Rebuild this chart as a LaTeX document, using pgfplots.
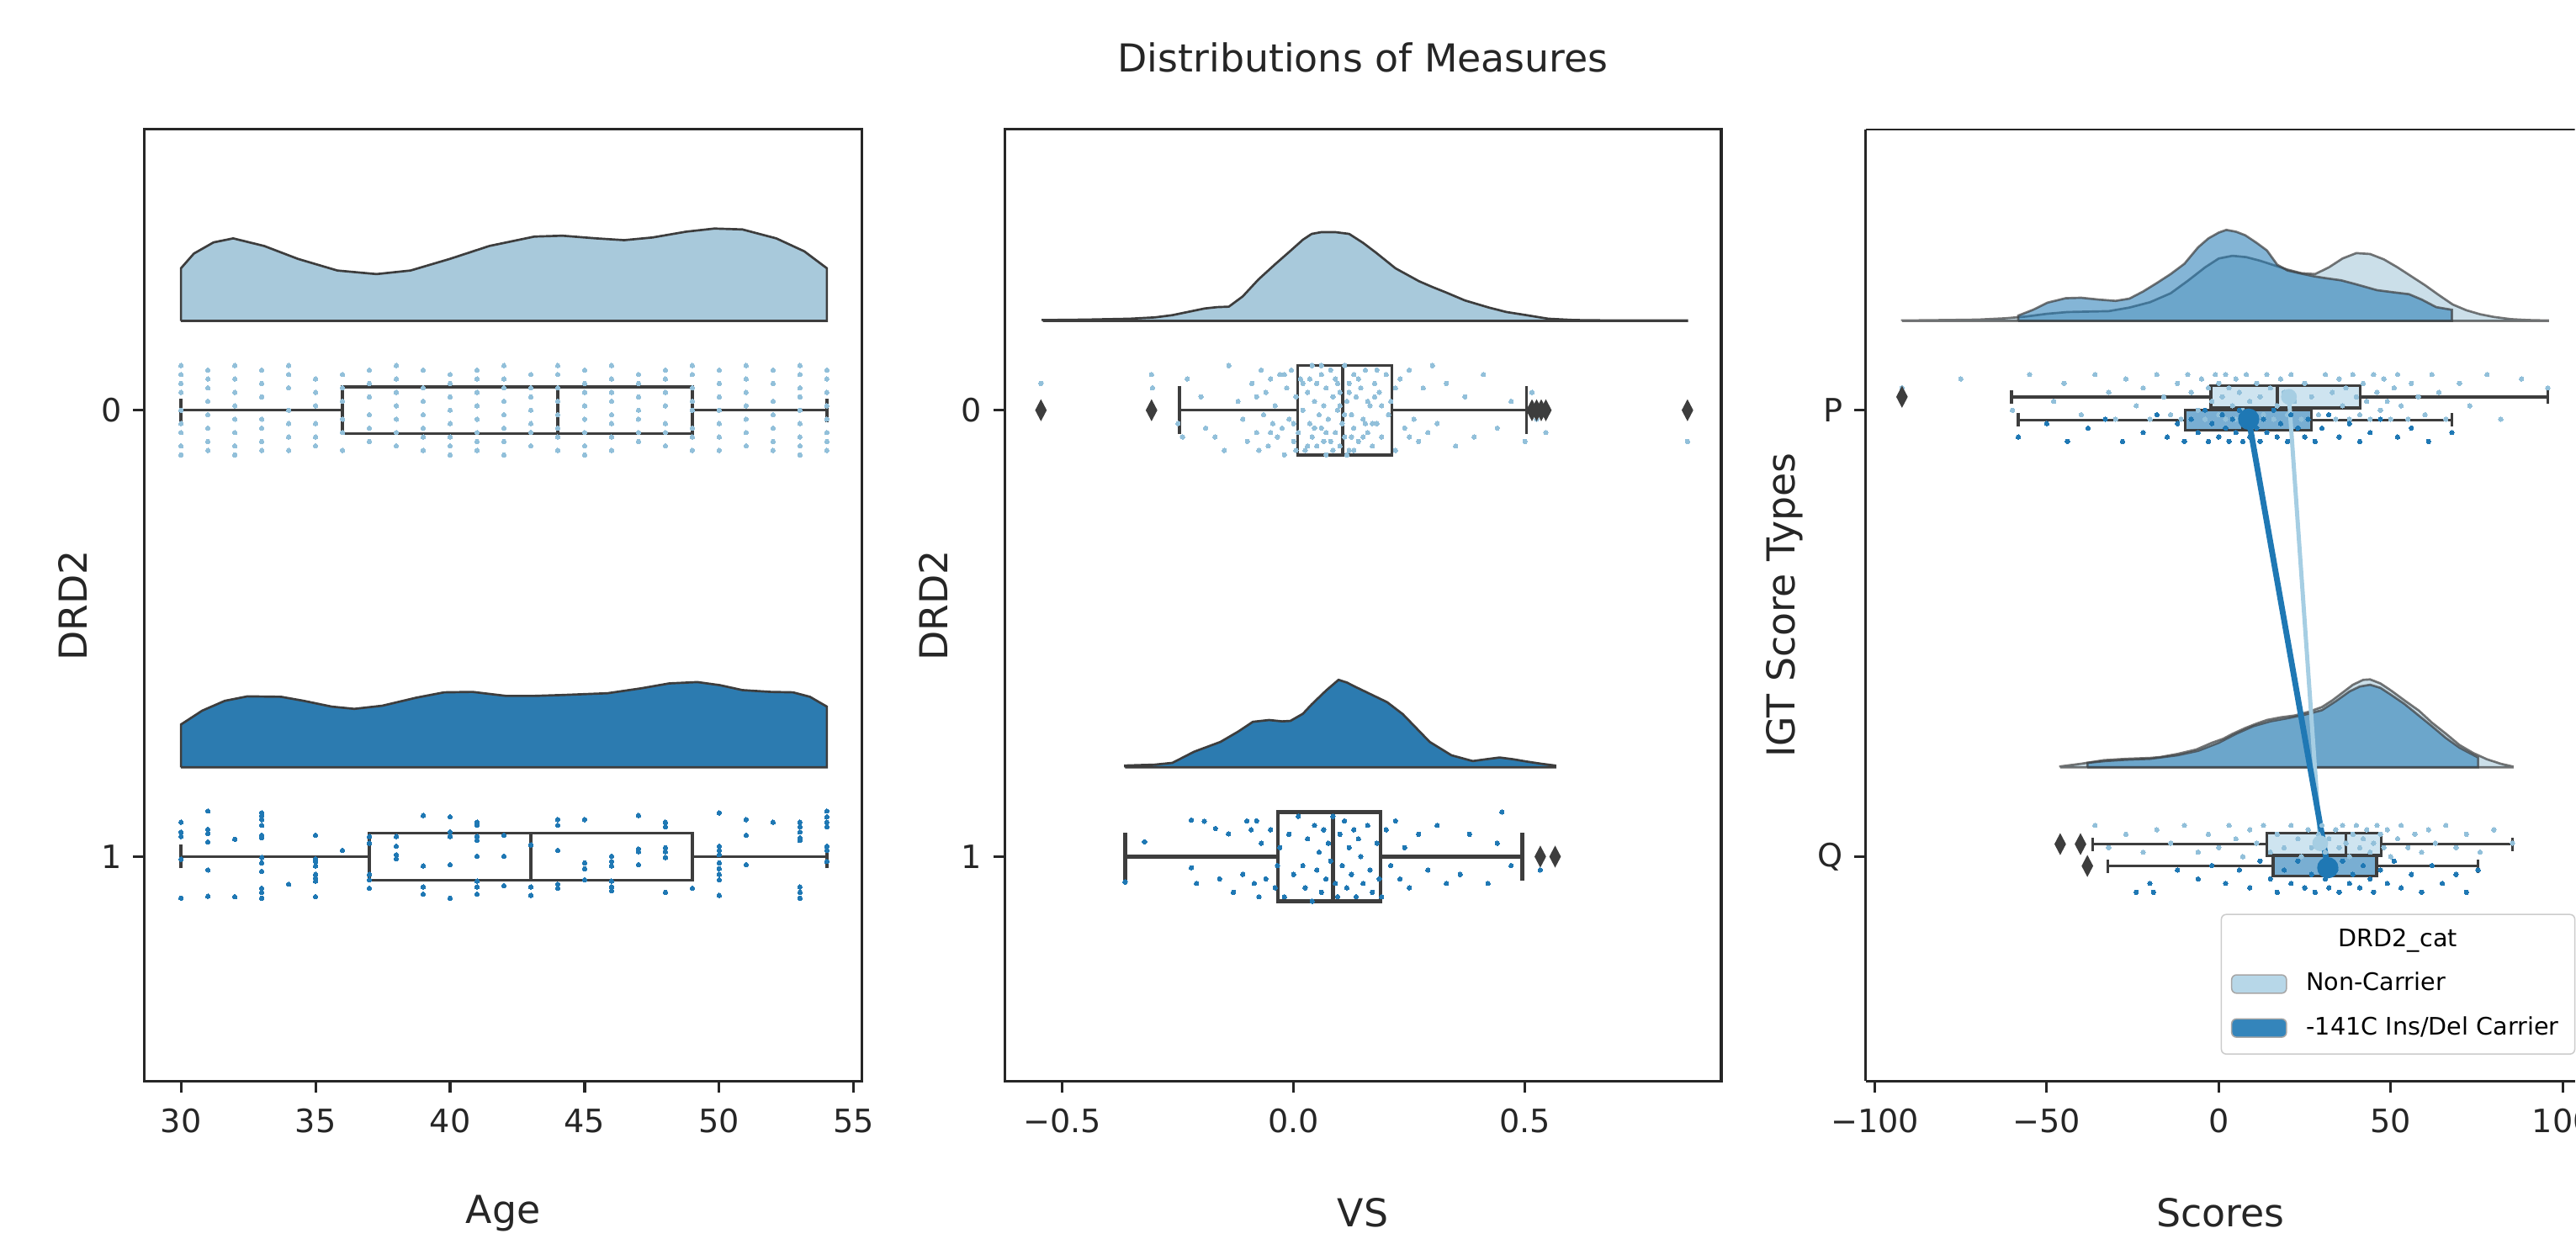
\documentclass[border=0pt]{standalone}
\usepackage{fontspec}
\setmainfont{DejaVu Sans}
\usepackage{pgfplots}
\pgfplotsset{compat=1.18}
\usepgfplotslibrary{statistics}

\definecolor{lightc}{RGB}{166,206,227}
\definecolor{lightv}{RGB}{168,201,219}
\definecolor{lightpt}{RGB}{146,192,218}
\definecolor{darkc}{RGB}{31,120,180}
\definecolor{darkv}{RGB}{44,123,176}
\definecolor{boxgray}{RGB}{61,61,61}
\definecolor{spine}{RGB}{38,38,38}

\pgfplotsset{
  rc/.style={
    scale only axis, height=10.4144cm, anchor=south west,
    ymin=-1.503, ymax=0.629, ytick={-1,0},
    tick align=outside, xtick pos=left, ytick pos=left,
    major tick length=3.6pt,
    axis line style={line width=0.8pt, spine},
    tick style={line width=0.8pt, spine},
    tick label style={font=\fontsize{10}{12}\selectfont, text=spine},
    xticklabel style={yshift=-1.5pt},
    label style={font=\fontsize{12}{14}\selectfont, text=spine},
    xlabel style={at={(axis description cs:0.5,-0.1387)}, anchor=center},
  },
  viol/.style={draw=boxgray, line width=0.7pt},
  bx/.style={draw=boxgray, line width=0.9pt, solid, boxplot/draw direction=x},
  outl/.style={only marks, mark=diamond*, mark size=3pt, mark options={fill=boxgray, draw=boxgray, xscale=0.7}},
  pts/.style={only marks, color=#1, mark=*, mark size=0.7pt, mark options={draw=#1, fill=#1, line width=0pt}},
}

\begin{document}
\begin{tikzpicture}
% page frame (3062 x 1479 px at 0.0092 cm/px)
\path (0,0) rectangle (28.1704cm,-13.6068cm);

% ---------- Age ----------
\begin{axis}[rc, at={(1.5824cm,-11.8312cm)}, width=7.8476cm,
  xmin=28.65, xmax=55.3, xtick={30,35,40,45,50,55}, xticklabels={30,35,40,45,50,55},
  yticklabels={1,0}, xlabel={Age}, ylabel={DRD2},
  ylabel style={at={(axis description cs:-0.0997,0.5)}, anchor=center}]
\addplot[viol, fill=lightv] table[row sep=\\, y expr=0.2+\thisrow{h}] {x h\\
30 0\\30 0.118\\30.48 0.151\\31.21 0.176\\31.94 0.185\\33.09 0.168\\34.35 0.139\\35.81 0.113\\
37.27 0.105\\38.53 0.113\\39.99 0.139\\41.46 0.168\\43.13 0.189\\44.17 0.191\\45.43 0.185\\
46.47 0.181\\47.52 0.187\\48.77 0.200\\49.82 0.207\\50.86 0.205\\52.12 0.185\\53.16 0.156\\
54 0.118\\54 0\\30 0\\};
\addplot[viol, fill=darkv] table[row sep=\\, y expr=-0.8+\thisrow{h}] {x h\\
30 0\\30 0.096\\30.79 0.127\\31.63 0.149\\32.47 0.159\\33.72 0.158\\34.56 0.149\\35.60 0.136\\
36.44 0.131\\37.48 0.138\\38.74 0.156\\39.78 0.168\\40.83 0.169\\42.08 0.160\\43.13 0.160\\
44.17 0.162\\45.85 0.166\\47.10 0.177\\48.14 0.188\\49.19 0.191\\50.03 0.184\\50.86 0.173\\
51.91 0.169\\52.74 0.168\\53.37 0.158\\54 0.136\\54 0\\30 0\\};
\addplot[pts=lightpt] table[row sep=\\, y expr=-\thisrow{j}] {x j\\
30 -0.10\\30 -0.08\\30 -0.06\\30 -0.04\\30 0.00\\30 0.03\\30 0.05\\30 0.08\\30 0.10\\
31 -0.09\\31 -0.07\\31 -0.05\\31 -0.02\\31 0.01\\31 0.04\\31 0.07\\31 0.09\\
32 -0.10\\32 -0.07\\32 -0.04\\32 -0.01\\32 0.02\\32 0.05\\32 0.08\\32 0.10\\
33 -0.09\\33 -0.06\\33 -0.03\\33 0.02\\33 0.04\\33 0.07\\33 0.09\\
34 -0.10\\34 -0.08\\34 -0.05\\34 0.00\\34 0.03\\34 0.06\\34 0.09\\
35 -0.07\\35 -0.04\\35 -0.01\\35 0.03\\35 0.06\\35 0.08\\
36 -0.08\\36 -0.05\\36 -0.02\\36 0.02\\36 0.05\\36 0.09\\
37 -0.09\\37 -0.06\\37 -0.03\\37 0.01\\37 0.04\\37 0.07\\
38 -0.10\\38 -0.07\\38 -0.04\\38 -0.01\\38 0.02\\38 0.05\\38 0.08\\
39 -0.09\\39 -0.05\\39 -0.02\\39 0.01\\39 0.04\\39 0.06\\39 0.09\\
40 -0.08\\40 -0.06\\40 -0.03\\40 0.00\\40 0.03\\40 0.06\\40 0.08\\40 0.10\\
41 -0.09\\41 -0.07\\41 -0.04\\41 -0.01\\41 0.02\\41 0.05\\41 0.07\\41 0.09\\
42 -0.10\\42 -0.07\\42 -0.05\\42 -0.02\\42 0.01\\42 0.04\\42 0.07\\42 0.10\\
43 -0.08\\43 -0.05\\43 -0.03\\43 0.00\\43 0.03\\43 0.05\\43 0.08\\
44 -0.10\\44 -0.08\\44 -0.05\\44 -0.02\\44 0.01\\44 0.04\\44 0.06\\44 0.09\\
45 -0.09\\45 -0.06\\45 -0.04\\45 -0.01\\45 0.02\\45 0.05\\45 0.08\\45 0.10\\
46 -0.10\\46 -0.07\\46 -0.04\\46 -0.02\\46 0.01\\46 0.03\\46 0.06\\46 0.09\\
47 -0.08\\47 -0.06\\47 -0.03\\47 0.00\\47 0.02\\47 0.05\\47 0.07\\
48 -0.09\\48 -0.07\\48 -0.04\\48 -0.01\\48 0.03\\48 0.05\\48 0.08\\
49 -0.10\\49 -0.08\\49 -0.05\\49 -0.02\\49 0.00\\49 0.04\\49 0.06\\49 0.09\\
50 -0.09\\50 -0.06\\50 -0.03\\50 0.00\\50 0.03\\50 0.06\\50 0.09\\
51 -0.10\\51 -0.07\\51 -0.04\\51 -0.01\\51 0.02\\51 0.05\\51 0.08\\
52 -0.09\\52 -0.06\\52 -0.02\\52 0.01\\52 0.04\\52 0.07\\52 0.09\\
53 -0.10\\53 -0.08\\53 -0.05\\53 -0.03\\53 0.00\\53 0.03\\53 0.06\\53 0.08\\53 0.10\\
54 -0.09\\54 -0.07\\54 -0.04\\54 -0.01\\54 0.02\\54 0.05\\54 0.07\\54 0.09\\};
\addplot[pts=darkc] table[row sep=\\, y expr=-1-\thisrow{j}] {x j\\
30 -0.077\\30 -0.055\\30 -0.045\\30 0.006\\30 0.093\\
31 -0.102\\31 -0.061\\31 -0.052\\31 -0.033\\31 0.030\\31 0.089\\
32 -0.039\\32 0.090\\
33 -0.098\\33 -0.092\\33 -0.083\\33 -0.070\\33 -0.048\\33 -0.042\\33 0.002\\33 0.014\\33 0.033\\33 0.071\\33 0.080\\33 0.093\\
34 0.062\\
35 -0.048\\35 0.005\\35 0.011\\35 0.021\\35 0.040\\35 0.049\\35 0.055\\35 0.090\\
36 -0.014\\
37 -0.045\\37 -0.030\\37 0.040\\37 0.052\\37 0.071\\
38 -0.045\\38 -0.023\\38 -0.004\\38 0.005\\
39 -0.092\\39 0.021\\39 0.068\\39 0.084\\
40 -0.089\\40 -0.055\\40 -0.045\\40 0.018\\40 0.093\\
41 -0.077\\41 -0.070\\41 -0.045\\41 -0.036\\41 -0.001\\41 0.055\\41 0.068\\41 0.084\\
42 -0.048\\42 -0.001\\42 0.065\\
43 -0.026\\43 0.068\\43 0.087\\
44 -0.083\\44 -0.070\\44 -0.014\\44 0.062\\44 0.071\\
45 -0.083\\45 0.014\\45 0.027\\45 0.052\\
46 -0.001\\46 0.011\\46 0.021\\46 0.055\\46 0.068\\46 0.077\\
47 -0.092\\47 -0.017\\47 -0.011\\47 0.018\\
48 -0.077\\48 -0.067\\48 -0.020\\48 -0.011\\48 0.002\\48 0.080\\
49 0.071\\
50 -0.098\\50 -0.023\\50 -0.014\\50 -0.004\\50 0.014\\50 0.027\\50 0.040\\50 0.052\\50 0.087\\
51 -0.083\\51 -0.048\\51 0.018\\
52 -0.077\\
53 -0.077\\53 -0.067\\53 -0.055\\53 -0.042\\53 -0.039\\53 -0.036\\53 0.068\\53 0.080\\53 0.093\\
54 -0.102\\54 -0.089\\54 -0.077\\54 -0.067\\54 -0.023\\54 -0.014\\54 0.011\\};
\addplot[bx, boxplot prepared={lower whisker=30, lower quartile=36, median=44, upper quartile=49, upper whisker=54, draw position=0, box extend=0.105, whisker extend=0.0525}] coordinates {};
\addplot[bx, boxplot prepared={lower whisker=30, lower quartile=37, median=43, upper quartile=49, upper whisker=54, draw position=-1, box extend=0.105, whisker extend=0.0525}] coordinates {};
\end{axis}

% ---------- VS ----------
\begin{axis}[rc, at={(10.994cm,-11.8312cm)}, width=7.8384cm,
  xmin=-0.624, xmax=0.924, xtick={-0.5,0,0.5}, xticklabels={−0.5,0.0,0.5},
  yticklabels={1,0}, xlabel={VS}, ylabel={DRD2},
  ylabel style={at={(axis description cs:-0.0997,0.5)}, anchor=center}]
\addplot[viol, fill=lightv] table[row sep=\\, y expr=0.2+\thisrow{h}] {x h\\
-0.542 0\\-0.542 0.002\\-0.45 0.003\\-0.354 0.005\\-0.30 0.008\\-0.262 0.013\\-0.22 0.022\\
-0.192 0.028\\-0.165 0.031\\-0.14 0.032\\-0.11 0.055\\-0.076 0.093\\-0.04 0.127\\-0.007 0.157\\
0.02 0.182\\0.039 0.195\\0.06 0.199\\0.09 0.199\\0.12 0.195\\0.15 0.175\\0.178 0.153\\
0.22 0.118\\0.271 0.089\\0.30 0.076\\0.329 0.064\\0.37 0.046\\0.422 0.030\\0.46 0.020\\
0.503 0.013\\0.55 0.005\\0.607 0.002\\0.70 0.001\\0.85 0.001\\0.85 0\\-0.542 0\\};
\addplot[viol, fill=darkv] table[row sep=\\, y expr=-0.8+\thisrow{h}] {x h\\
-0.364 0\\-0.364 0.004\\-0.30 0.006\\-0.262 0.010\\-0.215 0.035\\-0.158 0.057\\-0.12 0.080\\
-0.088 0.102\\-0.053 0.106\\-0.025 0.103\\-0.007 0.104\\0.02 0.120\\0.039 0.141\\0.07 0.172\\
0.097 0.196\\0.115 0.190\\0.132 0.181\\0.17 0.162\\0.202 0.146\\0.236 0.119\\0.265 0.088\\
0.294 0.057\\0.341 0.027\\0.387 0.014\\0.415 0.018\\0.445 0.022\\0.475 0.018\\0.503 0.013\\
0.535 0.008\\0.565 0.004\\0.565 0\\-0.364 0\\};
\addplot[pts=lightpt] table[row sep=\\, y expr=-\thisrow{j}] {x j\\
-0.546 -0.06\\-0.307 -0.08\\-0.305 -0.05\\-0.25 0.03\\-0.24 0.06\\-0.23 -0.07\\-0.20 -0.03\\
-0.19 0.04\\-0.17 0.06\\-0.15 0.09\\-0.14 -0.10\\-0.12 -0.02\\-0.11 0.02\\-0.10 0.07\\
-0.09 -0.06\\-0.08 0.05\\-0.075 0.09\\-0.07 -0.09\\-0.065 0.01\\-0.06 -0.04\\-0.055 0.08\\
-0.05 -0.07\\-0.045 0.03\\-0.04 -0.01\\-0.035 0.06\\-0.03 -0.08\\-0.025 0.04\\-0.02 0.10\\
-0.015 -0.05\\-0.01 0.02\\-0.005 -0.09\\0.0 0.07\\0.005 -0.03\\0.01 0.05\\0.015 -0.07\\
0.02 0.00\\0.025 0.09\\0.03 -0.04\\0.035 0.03\\0.04 -0.10\\0.04 0.06\\0.045 -0.02\\0.05 0.08\\
0.05 -0.06\\0.055 0.01\\0.06 -0.08\\0.06 0.04\\0.065 -0.01\\0.07 0.10\\0.07 -0.05\\0.075 0.02\\
0.08 -0.09\\0.08 0.07\\0.085 -0.03\\0.09 0.05\\0.09 -0.07\\0.095 0.00\\0.10 0.08\\0.10 -0.04\\
0.105 0.03\\0.11 -0.10\\0.11 0.06\\0.115 -0.02\\0.12 0.09\\0.12 -0.06\\0.125 0.01\\0.13 -0.08\\
0.13 0.04\\0.135 -0.03\\0.14 0.07\\0.145 -0.05\\0.15 0.02\\0.155 -0.09\\0.16 0.05\\0.165 -0.01\\
0.17 0.08\\0.175 -0.06\\0.18 0.03\\0.185 -0.04\\0.19 0.06\\0.20 -0.08\\0.205 0.01\\0.21 -0.02\\
0.22 0.09\\0.23 -0.07\\0.24 0.04\\0.25 -0.09\\0.26 0.02\\0.27 0.07\\0.28 -0.05\\0.29 0.05\\
0.30 -0.10\\0.31 0.03\\0.33 -0.06\\0.35 0.08\\0.37 -0.03\\0.39 0.06\\0.41 -0.08\\0.44 0.04\\
0.47 -0.02\\0.50 0.07\\0.515 -0.04\\0.525 0.02\\0.535 -0.01\\0.545 0.05\\0.851 0.07\\
-0.02 -0.08\\0.0 0.03\\0.02 -0.06\\0.03 0.08\\0.045 0.04\\0.06 -0.10\\0.07 0.05\\0.085 0.09\\
0.095 -0.06\\0.11 0.01\\0.12 -0.04\\0.13 0.09\\0.14 -0.07\\0.15 0.06\\0.16 -0.02\\0.17 0.03\\
0.18 -0.09\\0.19 -0.01\\0.035 -0.07\\0.065 0.07\\0.10 -0.01\\0.125 0.06\\-0.05 0.05\\
-0.08 -0.03\\0.22 -0.05\\0.25 0.06\\0.005 0.09\\0.115 0.10\\0.155 0.03\\0.175 -0.03\\};
\addplot[pts=darkc] table[row sep=\\, y expr=-1-\thisrow{j}] {x j\\
-0.364 0.057\\-0.322 -0.033\\-0.221 -0.082\\-0.221 0.025\\-0.21 0.06\\-0.193 -0.079\\
-0.169 -0.063\\-0.16 0.05\\-0.141 -0.051\\-0.13 0.08\\-0.11 0.04\\-0.101 -0.080\\-0.092 -0.060\\
-0.085 0.06\\-0.08 -0.08\\-0.075 0.09\\-0.07 -0.03\\-0.06 0.05\\-0.05 -0.06\\-0.04 0.07\\
-0.035 0.02\\-0.03 -0.02\\-0.02 0.09\\-0.01 -0.05\\0.0 0.04\\0.01 -0.09\\0.02 0.02\\0.025 0.07\\
0.03 -0.04\\0.04 0.10\\0.045 -0.07\\0.05 0.03\\0.055 -0.01\\0.06 0.08\\0.065 -0.06\\0.07 0.05\\
0.075 -0.03\\0.08 0.01\\0.085 -0.09\\0.09 0.06\\0.095 0.09\\0.10 -0.05\\0.105 0.02\\0.11 -0.08\\
0.115 0.07\\0.12 -0.02\\0.125 0.04\\0.13 -0.06\\0.135 0.09\\0.14 -0.04\\0.145 0.00\\0.15 0.06\\
0.16 -0.07\\0.165 0.03\\0.17 0.08\\0.18 -0.03\\0.185 0.05\\0.19 0.09\\0.20 -0.06\\0.21 0.02\\
0.22 -0.08\\0.23 0.05\\0.24 -0.02\\0.25 0.07\\0.27 -0.05\\0.29 0.03\\0.31 -0.07\\0.33 0.06\\
0.36 0.04\\0.38 -0.05\\0.42 0.06\\0.44 -0.03\\0.45 -0.10\\0.47 0.02\\0.533 0.03\\0.565 -0.01\\};
\addplot[bx, boxplot prepared={lower whisker=-0.247, lower quartile=0.009, median=0.106, upper quartile=0.212, upper whisker=0.503, draw position=0, box extend=0.2, whisker extend=0.107}] coordinates {};
\addplot[bx, line width=1.2pt, boxplot prepared={lower whisker=-0.364, lower quartile=-0.034, median=0.085, upper quartile=0.188, upper whisker=0.494, draw position=-1, box extend=0.2, whisker extend=0.107}] coordinates {};
\addplot[outl] coordinates {(-0.546,0) (-0.307,0) (0.515,0) (0.525,0) (0.535,0) (0.545,0) (0.851,0) (0.533,-1) (0.565,-1)};
\end{axis}

% ---------- Scores (cut at the right edge, as in the reference) ----------
\begin{axis}[rc, at={(20.4148cm,-11.8312cm)}, width=7.7556cm,
  axis x line*=bottom, axis y line*=left,
  xmin=-102.6, xmax=103.5, xtick={-100,-50,0,50,100}, xticklabels={−100,−50,0,50,100},
  xticklabel style={overlay},
  yticklabels={Q,P}, xlabel={Scores}, ylabel={IGT Score Types},
  ylabel style={at={(axis description cs:-0.115,0.5)}, anchor=center},
  legend style={at={(0.5006,0.1758)}, anchor=north west, draw=black!20, rounded corners=1.5pt,
    fill=white, font=\fontsize{7.5}{9}\selectfont, row sep=2.5pt, inner xsep=3pt, inner ysep=2.5pt},
  legend cell align=left]
\draw[spine, line width=0.8pt] (rel axis cs:0,1) -- (rel axis cs:1,1);
\addplot[viol, forget plot, draw opacity=0.7, fill=lightv, fill opacity=0.6] table[row sep=\\, y expr=0.2+\thisrow{h}] {x h\\
-92.1 0\\-92.1 0.001\\-80 0.002\\-70 0.003\\-62 0.006\\-56 0.010\\-50 0.016\\-44 0.020\\
-38 0.021\\-32 0.022\\-26 0.030\\-20 0.042\\-14 0.062\\-9 0.09\\-4 0.12\\0 0.14\\4 0.146\\
8 0.143\\12 0.135\\16 0.125\\20 0.115\\24 0.107\\28 0.105\\32 0.120\\36 0.140\\40 0.152\\
44 0.150\\48 0.138\\52 0.120\\56 0.100\\60 0.080\\64 0.058\\68 0.037\\72 0.024\\76 0.015\\
80 0.009\\85 0.004\\90 0.002\\95.7 0.001\\95.7 0\\-92.1 0\\};
\addplot[viol, forget plot, draw opacity=0.7, fill=darkc, fill opacity=0.55] table[row sep=\\, y expr=0.2+\thisrow{h}] {x h\\
-58.3 0\\-58.3 0.012\\-54 0.025\\-49.8 0.041\\-44.5 0.051\\-40 0.052\\-35 0.048\\-30 0.045\\
-26 0.050\\-22 0.066\\-18 0.085\\-14 0.105\\-10 0.128\\-6 0.165\\-3 0.185\\0 0.198\\2.2 0.204\\
5 0.200\\7.7 0.192\\11 0.175\\14 0.158\\17 0.126\\20 0.113\\24 0.106\\27.7 0.100\\31 0.096\\
35.6 0.091\\40 0.082\\46 0.069\\51 0.064\\55.3 0.060\\59 0.048\\63.2 0.031\\67.8 0.025\\
67.8 0\\-58.3 0\\};
\addplot[viol, forget plot, draw opacity=0.7, fill=lightv, fill opacity=0.6] table[row sep=\\, y expr=-0.8+\thisrow{h}] {x h\\
-46.1 0\\-46.1 0.002\\-40 0.008\\-33.4 0.016\\-27 0.019\\-20 0.021\\-17 0.023\\-12 0.030\\
-6.5 0.040\\-2 0.055\\1.3 0.064\\4 0.075\\7.7 0.088\\11 0.098\\14 0.106\\18 0.112\\22 0.116\\
26 0.124\\30 0.135\\33 0.150\\36.1 0.168\\39 0.185\\42 0.196\\44 0.197\\47 0.188\\50.3 0.171\\
54 0.150\\58.2 0.127\\62 0.100\\66.1 0.075\\70 0.050\\74 0.032\\78 0.018\\82 0.008\\
85.4 0.002\\85.4 0\\-46.1 0\\};
\addplot[viol, forget plot, draw opacity=0.7, fill=darkc, fill opacity=0.55] table[row sep=\\, y expr=-0.8+\thisrow{h}] {x h\\
-38.2 0\\-38.2 0.010\\-33 0.014\\-27 0.017\\-20 0.019\\-12 0.027\\-6 0.037\\0 0.055\\
5 0.075\\10 0.092\\15 0.103\\20 0.110\\25 0.118\\30 0.128\\34 0.148\\38 0.170\\41 0.181\\
44 0.185\\47 0.178\\50 0.163\\54 0.142\\58 0.117\\62 0.092\\66 0.066\\70 0.044\\75.4 0.022\\
75.4 0\\-38.2 0\\};
% strip points
\addplot[pts=lightpt, forget plot] table[row sep=\\, y expr=-\thisrow{j}] {x j\\
-92.1 -0.05\\-75 -0.07\\-60 0.00\\-55 -0.08\\-48 -0.02\\-45 -0.06\\-40 0.01\\-36 -0.08\\
-32 -0.04\\-30 0.02\\-27 -0.07\\-24 -0.01\\-22 -0.05\\-20 0.02\\-18 -0.08\\-16 -0.03\\
-14 0.01\\-12 -0.06\\-11 0.02\\-9 -0.08\\-8 -0.04\\-6 0.00\\-5 -0.07\\-4 0.02\\-3 -0.05\\
-2 -0.02\\-1 -0.08\\0 0.01\\0 -0.06\\1 -0.03\\2 0.02\\2 -0.08\\3 -0.05\\4 -0.01\\5 0.02\\
5 -0.07\\6 -0.04\\7 0.00\\8 -0.08\\9 -0.02\\10 0.02\\11 -0.06\\12 -0.03\\13 0.01\\14 -0.08\\
15 -0.05\\16 0.02\\17 -0.01\\18 -0.07\\19 -0.04\\20 0.01\\21 -0.08\\22 -0.02\\24 0.02\\
25 -0.06\\27 -0.03\\29 0.01\\31 -0.08\\33 -0.04\\34 0.02\\35 -0.07\\36 -0.01\\37 -0.05\\
38 0.02\\39 -0.08\\40 -0.03\\41 0.01\\42 -0.06\\43 -0.02\\44 0.02\\45 -0.08\\46 -0.04\\
47 0.00\\48 -0.07\\49 -0.02\\50 0.02\\51 -0.05\\52 -0.08\\53 -0.01\\55 0.02\\56 -0.06\\
58 -0.03\\60 0.01\\62 -0.08\\64 -0.04\\66 0.02\\70 -0.06\\73 -0.01\\78 -0.08\\82 0.02\\
88 -0.07\\95.7 -0.05\\};
\addplot[pts=lightpt, forget plot] table[row sep=\\, y expr=-1-\thisrow{j}] {x j\\
-46.1 -0.02\\-40.2 -0.04\\-36 -0.07\\-32 -0.02\\-27 -0.05\\-22 -0.01\\-18 -0.06\\-14 -0.03\\
-10 -0.07\\-6 -0.01\\-3 -0.05\\0 -0.02\\3 -0.07\\5 -0.04\\7 0.00\\9 -0.06\\11 -0.03\\
13 -0.07\\15 -0.01\\17 -0.05\\19 -0.02\\21 -0.07\\23 -0.04\\24 0.00\\26 -0.06\\27 -0.02\\
29 -0.05\\30 -0.07\\31 -0.01\\32 -0.04\\34 -0.06\\35 -0.02\\36 -0.07\\37 -0.03\\38 0.00\\
39 -0.05\\40 -0.07\\41 -0.02\\42 -0.04\\43 -0.06\\44 -0.01\\45 -0.03\\46 -0.07\\47 -0.05\\
48 -0.02\\49 -0.06\\50 0.00\\52 -0.04\\53 -0.07\\55 -0.02\\57 -0.05\\59 -0.01\\61 -0.06\\
63 -0.03\\66 -0.07\\69 -0.02\\72 -0.05\\76 -0.01\\80 -0.06\\85.4 -0.03\\};
\addplot[pts=darkc, forget plot] table[row sep=\\, y expr=-\thisrow{j}] {x j\\
-58.3 0.06\\-50 0.03\\-44 0.07\\-38 0.04\\-33 0.02\\-28 0.07\\-22 0.05\\-18 0.01\\-15 0.06\\
-12 0.03\\-10 0.07\\-8 0.02\\-6 0.05\\-4 0.00\\-3 0.07\\-2 0.03\\0 0.06\\1 0.01\\2 0.04\\
3 0.07\\4 0.02\\5 0.05\\6 0.00\\7 0.07\\8 0.03\\9 0.06\\10 0.01\\11 0.04\\12 0.07\\13 0.02\\
14 0.05\\16 0.00\\17 0.06\\18 0.03\\20 0.07\\21 0.01\\23 0.04\\25 0.06\\26 0.02\\28 0.07\\
30 0.04\\32 0.01\\35 0.06\\38 0.03\\41 0.07\\44 0.05\\47 0.02\\52 0.06\\56 0.04\\61 0.07\\
67.8 0.05\\};
\addplot[pts=darkc, forget plot] table[row sep=\\, y expr=-1-\thisrow{j}] {x j\\
-38.2 0.03\\-24 0.08\\-19 0.08\\-20 0.06\\-12 0.03\\-6 0.05\\-2 0.02\\2 0.06\\6 0.03\\
9 0.07\\12 0.01\\15 0.05\\17 0.08\\19 0.03\\21 0.06\\23 0.01\\25 0.07\\27 0.04\\28 0.08\\
30 0.02\\31 0.05\\32 0.07\\34 0.03\\35 0.08\\36 0.01\\38 0.06\\39 0.04\\41 0.07\\42 0.02\\
44 0.05\\45 0.08\\47 0.03\\49 0.06\\51 0.01\\53 0.07\\56 0.04\\59 0.08\\62 0.02\\65 0.06\\
69 0.04\\72 0.08\\75.4 0.03\\};
% boxes
\addplot[bx, forget plot, fill=lightc, fill opacity=0.55, boxplot prepared={lower whisker=-60.3, lower quartile=-2.3, median=17, upper quartile=41.1, upper whisker=95.7, draw position=0.03, box extend=0.05, whisker extend=0.03}] coordinates {};
\addplot[bx, forget plot, fill=darkc, fill opacity=0.6, boxplot prepared={lower whisker=-58.3, lower quartile=-9.7, median=7, upper quartile=27.0, upper whisker=67.8, draw position=-0.022, box extend=0.045, whisker extend=0.03}] coordinates {};
\addplot[bx, forget plot, fill=lightc, fill opacity=0.55, boxplot prepared={lower whisker=-36.6, lower quartile=14.0, median=37, upper quartile=47.2, upper whisker=85.4, draw position=-0.972, box extend=0.05, whisker extend=0.03}] coordinates {};
\addplot[bx, forget plot, fill=darkc, fill opacity=0.6, boxplot prepared={lower whisker=-32.2, lower quartile=15.8, median=31, upper quartile=45.9, upper whisker=75.4, draw position=-1.021, box extend=0.045, whisker extend=0.03}] coordinates {};
\addplot[outl, forget plot] coordinates {(-92.1,0.03) (-46.1,-0.972) (-40.2,-0.972) (-38.2,-1.021)};
% point plot of means
\addplot[forget plot, lightc, line width=1.3pt, mark=*, mark size=1.8pt] coordinates {(20.4,0.03) (29.5,-0.97)};
\addplot[forget plot, darkc, line width=1.8pt, mark=*, mark size=2.4pt] coordinates {(8.7,-0.02) (31.7,-1.025)};
% legend
\addlegendimage{empty legend}\addlegendentry{\hspace*{14pt}DRD2\_cat}
\addlegendimage{area legend, fill=lightc, fill opacity=0.8, draw=black!35}\addlegendentry{\hspace*{4pt}Non-Carrier}
\addlegendimage{area legend, fill=darkc, fill opacity=0.9, draw=black!35}\addlegendentry{\hspace*{4pt}-141C Ins/Del Carrier}
\end{axis}

\node[font=\fontsize{12}{14}\selectfont, text=spine] at (14.913cm,-0.6256cm) {Distributions of Measures};
\end{tikzpicture}
\end{document}
